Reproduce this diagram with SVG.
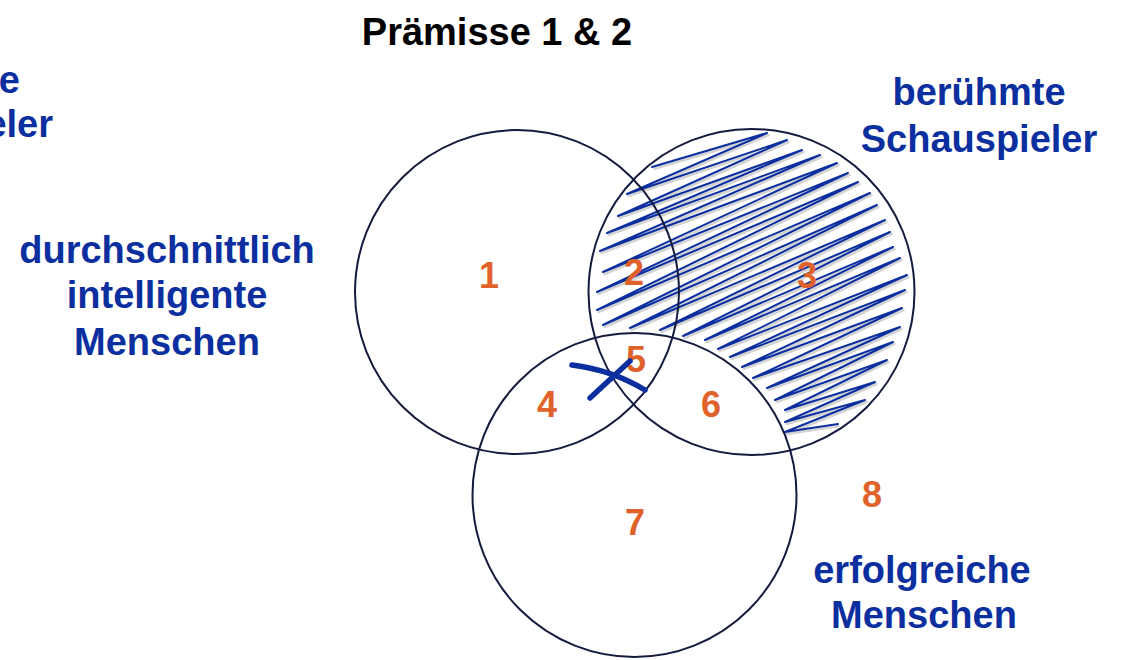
<svg xmlns="http://www.w3.org/2000/svg" width="1124" height="660" viewBox="0 0 1124 660">
<style>
.lbl{font-family:"Liberation Sans",Arial,sans-serif;font-weight:bold;font-size:38px;fill:#0b2f9f;text-anchor:middle}
.ttl{font-family:"Liberation Sans",Arial,sans-serif;font-weight:bold;font-size:38px;fill:#000;text-anchor:middle}
.num{font-family:"Liberation Sans",Arial,sans-serif;font-weight:bold;font-size:36px;fill:#e0622a;text-anchor:middle}
.circ{fill:none;stroke:#141b3f;stroke-width:2}
.hatch{fill:none;stroke:#0b2f9f;stroke-width:2;stroke-linejoin:round;stroke-linecap:round}
.shadow{fill:none;stroke:#808080;stroke-opacity:0.35;stroke-width:2.5;stroke-linejoin:round}
.xmark{fill:none;stroke:#0b2f9f;stroke-width:5.5;stroke-linecap:round}
</style>
<rect width="1124" height="660" fill="#fff"/>
<defs>
<path id="hp" d="M652,167 L767,133 L627,194 L787,140 L618,216 L802,150 L607,233 L820,155 L600,251 L837,163 L603,272 L848,173 L597,292 L858,182 L597,310 L870,193 L603,325 L877,205 L630,328 L885,220 L660,330 L890,232 L683,336 L893,247 L705,340 L900,258 L718,349 L907,275 L730,357 L905,290 L742,367 L902,308 L753,378 L900,327 L767,388 L893,342 L775,400 L887,360 L785,410 L875,382 L785,422 L865,400 L785,432 L838,424"/>
</defs>
<g id="title"><text class="ttl" x="497" y="45">Prämisse 1 &amp; 2</text></g>
<g id="hatching">
<use href="#hp" class="shadow" transform="translate(1.5,2)"/>
<use href="#hp" class="hatch"/>
</g>
<g id="circle-intelligent"><circle class="circ" cx="517" cy="292" r="162"/></g>
<g id="circle-schauspieler"><circle class="circ" cx="751.5" cy="292" r="163"/></g>
<g id="circle-erfolgreich"><circle class="circ" cx="634.5" cy="495" r="162"/></g>
<g id="numbers">
<text class="num" x="489" y="288">1</text>
<text class="num" x="634" y="285">2</text>
<text class="num" x="807" y="288">3</text>
<text class="num" x="547" y="417">4</text>
<text class="num" x="636" y="372">5</text>
<text class="num" x="711" y="417">6</text>
<text class="num" x="635" y="535">7</text>
<text class="num" x="872" y="507">8</text>
</g>
<g id="xmark">
<path class="xmark" d="M572,365 Q612,370 645,390"/>
<path class="xmark" d="M590,398 L630,361"/>
</g>
<g id="label-partial">
<text class="lbl" style="text-anchor:end" x="20" y="93">e</text>
<text class="lbl" style="text-anchor:end" x="53" y="137">eler</text>
</g>
<g id="label-intelligent">
<text class="lbl" x="167" y="263">durchschnittlich</text>
<text class="lbl" x="167" y="308">intelligente</text>
<text class="lbl" x="167" y="355">Menschen</text>
</g>
<g id="label-schauspieler">
<text class="lbl" x="979" y="105">berühmte</text>
<text class="lbl" x="979" y="152">Schauspieler</text>
</g>
<g id="label-erfolgreich">
<text class="lbl" x="922" y="583">erfolgreiche</text>
<text class="lbl" x="924" y="628">Menschen</text>
</g>
</svg>
